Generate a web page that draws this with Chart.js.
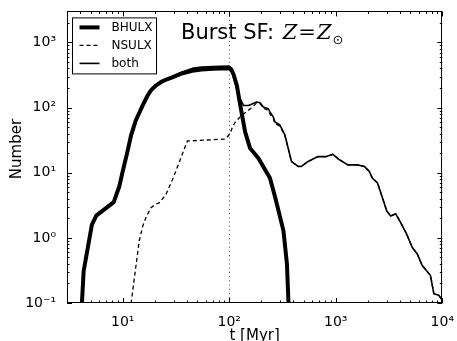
<!DOCTYPE html>
<html>
<head>
<meta charset="utf-8">
<script src="https://cdn.jsdelivr.net/npm/chart.js@4"></script>
<style>
  html, body { margin: 0; padding: 0; background: #fff; }
  #wrap { width: 457px; height: 341px; position: relative; }
</style>
</head>
<body>
<div id="wrap"><canvas id="c" width="457" height="341"></canvas></div>
<script>
// ---- data ----
const seriesNames = ['BHULX', 'NSULX', 'both'];

const bhTime  = [4.05, 4.3, 5.14, 5.65, 8.24, 9.3, 10, 11, 12, 13.3, 15.4, 17.1, 18.4, 20.5, 23, 26, 29.2, 35, 44.9, 55, 70, 100, 104, 110, 118, 127, 141, 157, 188, 241, 271, 323, 348, 360, 366];
const bhCount = [0.05, 0.31, 1.6, 2.2, 3.53, 6.2, 10.5, 20, 37.9, 64, 108, 152, 184, 218, 248, 272, 292, 330, 368, 385, 395, 402, 390, 320, 218, 108, 42.5, 23.7, 16.7, 8.3, 4.1, 1.28, 0.4, 0.1, 0.05];

const nsTime  = [11.9, 12.0, 12.9, 14.3, 15.4, 16.5, 18.4, 20.5, 22, 25.4, 29.3, 31.5, 40.4, 92, 102, 106, 114, 131, 163, 181, 195, 209, 233, 241, 259, 269, 299, 333, 358, 384, 443, 476, 550, 681, 815, 940, 1084, 1297, 1607, 1854, 2064, 2203, 2466, 2747, 3013, 3283, 3656, 4070, 4630, 5230, 5830, 6490, 7750, 8330, 9280, 10000];
const nsCount = [0.06, 0.1, 0.25, 0.9, 1.5, 2.04, 2.9, 3.3, 3.44, 4.6, 7.8, 10.5, 30.7, 32.9, 40, 47.7, 60, 76, 100, 118, 115, 98, 90, 80, 68, 57, 52, 37, 23.3, 14.8, 12.5, 12.5, 14.9, 17.7, 17.7, 19.2, 15.8, 13.2, 13.2, 12.5, 10.5, 8.3, 6.95, 4.1, 2.58, 2.16, 2.34, 1.71, 1.14, 0.71, 0.565, 0.375, 0.264, 0.139, 0.131, 0.11];

const bothTime  = [4.05, 4.3, 5.14, 5.65, 8.24, 9.3, 10, 11, 12, 13.3, 15.4, 17.1, 18.4, 20.5, 23, 26, 29.2, 35, 44.9, 55, 70, 100, 104, 112, 122, 136, 152, 181, 195, 209, 233, 241, 259, 269, 299, 333, 358, 384, 443, 476, 550, 681, 815, 940, 1084, 1297, 1607, 1854, 2064, 2203, 2466, 2747, 3013, 3283, 3656, 4070, 4630, 5230, 5830, 6490, 7750, 8330, 9280, 10000];
const bothCount = [0.05, 0.31, 1.6, 2.2, 3.53, 6.2, 10.5, 20, 38.5, 65, 110, 155, 187, 222, 252, 277, 300, 345, 400, 418, 427, 435, 405, 260, 155, 108, 108, 122, 119, 102, 96, 86, 72, 60, 54, 38, 23.7, 14.9, 12.5, 12.5, 14.9, 17.7, 17.7, 19.2, 15.8, 13.2, 13.2, 12.5, 10.5, 8.3, 6.95, 4.1, 2.58, 2.16, 2.34, 1.71, 1.14, 0.71, 0.565, 0.375, 0.264, 0.139, 0.131, 0.11];

const xTickValues = [10, 100, 1000, 10000];
const xTickLabels = ['10\u00B9', '10\u00B2', '10\u00B3', '10\u2074'];
const yTickValues = [0.1, 1, 10, 100, 1000];
const yTickLabels = ['10\u207B\u00B9', '10\u2070', '10\u00B9', '10\u00B2', '10\u00B3'];

const xRange = [3, 10000];
const yRange = [0.1, 3000];
const burstAge = 100;   // dotted marker at 100 Myr
const xTitle = 't [Myr]';
const yTitle = 'Number';

// ---- helpers ----
function pts(t, n) { return t.map((v, i) => ({ x: v, y: n[i] })); }

const FONT = "'DejaVu Sans', 'Bitstream Vera Sans', sans-serif";
Chart.defaults.font.family = FONT;
Chart.defaults.color = '#000';

const decor = {
  id: 'decor',
  beforeDatasetsDraw(chart) {
    const { ctx, chartArea: a, scales: { x } } = chart;
    ctx.save();
    const px = x.getPixelForValue(burstAge);
    ctx.strokeStyle = '#666';
    ctx.lineWidth = 1;
    ctx.setLineDash([1.2, 3]);
    ctx.beginPath();
    ctx.moveTo(Math.round(px) + 0.5, a.top);
    ctx.lineTo(Math.round(px) + 0.5, a.bottom);
    ctx.stroke();
    ctx.restore();
  },
  afterDatasetsDraw(chart) {
    const { ctx, chartArea: a, scales: { x, y } } = chart;
    ctx.save();
    // frame
    ctx.strokeStyle = '#000';
    ctx.lineWidth = 1;
    ctx.setLineDash([]);
    ctx.strokeRect(Math.round(a.left) + 0.5, Math.round(a.top) + 0.5,
                   Math.round(a.right - a.left) - 1, Math.round(a.bottom - a.top) - 1);
    // inward ticks on all four sides
    ctx.beginPath();
    for (let k = -2; k <= 4; k++) {
      for (let m = 1; m <= 9; m++) {
        const v = m * Math.pow(10, k);
        const len = m === 1 ? 5 : 2.5;
        if (v >= xRange[0] && v <= xRange[1]) {
          const p = Math.round(x.getPixelForValue(v)) + 0.5;
          ctx.moveTo(p, a.bottom); ctx.lineTo(p, a.bottom - len);
          ctx.moveTo(p, a.top); ctx.lineTo(p, a.top + len);
        }
        if (v >= yRange[0] && v <= yRange[1]) {
          const p = Math.round(y.getPixelForValue(v)) + 0.5;
          ctx.moveTo(a.left, p); ctx.lineTo(a.left + len, p);
          ctx.moveTo(a.right, p); ctx.lineTo(a.right - len, p);
        }
      }
    }
    ctx.stroke();

    // legend box
    const lx = a.left + 5.5, ly = a.top + 6.5, lw = 84, lh = 56;
    ctx.fillStyle = '#fff';
    ctx.fillRect(lx, ly, lw, lh);
    ctx.strokeRect(lx, ly, lw, lh);
    const rows = [
      { w: 4, dash: [] },
      { w: 1.3, dash: [4, 3] },
      { w: 1.6, dash: [] }
    ];
    ctx.font = '12px ' + FONT;
    ctx.textBaseline = 'middle';
    ctx.textAlign = 'left';
    ctx.fillStyle = '#000';
    rows.forEach((r, i) => {
      const cy = ly + 9.5 + i * 18;
      ctx.lineWidth = r.w;
      ctx.setLineDash(r.dash);
      ctx.beginPath();
      ctx.moveTo(lx + 7, cy);
      ctx.lineTo(lx + 27, cy);
      ctx.stroke();
      ctx.fillText(seriesNames[i], lx + 39, cy + 0.5);
    });
    ctx.setLineDash([]);

    // panel title with math
    ctx.textBaseline = 'alphabetic';
    let tx = 181, ty = 39;
    ctx.font = '21px ' + FONT;
    const t1 = 'Burst SF: ';
    ctx.fillText(t1, tx, ty);
    tx += ctx.measureText(t1).width + 2;
    ctx.font = 'italic 21px "DejaVu Serif", serif';
    ctx.fillText('Z', tx, ty);
    tx += ctx.measureText('Z').width + 1;
    ctx.font = '21px "DejaVu Serif", serif';
    ctx.fillText('=', tx, ty);
    tx += ctx.measureText('=').width + 1;
    ctx.font = 'italic 21px "DejaVu Serif", serif';
    ctx.fillText('Z', tx, ty);
    tx += ctx.measureText('Z').width + 1;
    ctx.font = '13px "DejaVu Sans", sans-serif';
    ctx.fillText('\u2299', tx, ty + 5);

    // axis titles
    ctx.font = '15px ' + FONT;
    ctx.textAlign = 'center';
    ctx.textBaseline = 'middle';
    ctx.fillText(xTitle, (a.left + a.right) / 2, 336);
    ctx.save();
    ctx.translate(17, 149);
    ctx.rotate(-Math.PI / 2);
    ctx.fillText(yTitle, 0, 0);
    ctx.restore();
    ctx.restore();
  }
};

new Chart(document.getElementById('c'), {
  type: 'line',
  data: {
    datasets: [
      { label: seriesNames[2], data: pts(bothTime, bothCount), borderColor: '#000', borderWidth: 1.6 },
      { label: seriesNames[0], data: pts(bhTime, bhCount), borderColor: '#000', borderWidth: 4 },
      { label: seriesNames[1], data: pts(nsTime, nsCount), borderColor: '#000', borderWidth: 1.3, borderDash: [4, 3] }
    ]
  },
  options: {
    responsive: false,
    animation: false,
    events: [],
    elements: {
      point: { radius: 0 },
      line: { tension: 0, fill: false, borderJoinStyle: 'round', borderCapStyle: 'butt' }
    },
    layout: { padding: { top: 9, right: 11, left: 0, bottom: 0 } },
    plugins: { legend: { display: false }, tooltip: { enabled: false }, title: { display: false } },
    scales: {
      x: {
        type: 'logarithmic',
        min: xRange[0], max: xRange[1],
        grid: { display: false },
        border: { display: false },
        afterFit(s) { s.height = 38; },
        afterBuildTicks(s) { s.ticks = xTickValues.map(v => ({ value: v })); },
        ticks: {
          autoSkip: false, maxRotation: 0, padding: 3,
          font: { size: 14 },
          callback(v) { const i = xTickValues.indexOf(v); return i >= 0 ? xTickLabels[i] : ''; }
        }
      },
      y: {
        type: 'logarithmic',
        min: yRange[0], max: yRange[1],
        grid: { display: false },
        border: { display: false },
        afterFit(s) { s.width = 67; },
        afterBuildTicks(s) { s.ticks = yTickValues.map(v => ({ value: v })); },
        ticks: {
          autoSkip: false, padding: 3,
          font: { size: 14 },
          callback(v) { const i = yTickValues.indexOf(v); return i >= 0 ? yTickLabels[i] : ''; }
        }
      }
    }
  },
  plugins: [decor]
});
</script>
</body>
</html>
